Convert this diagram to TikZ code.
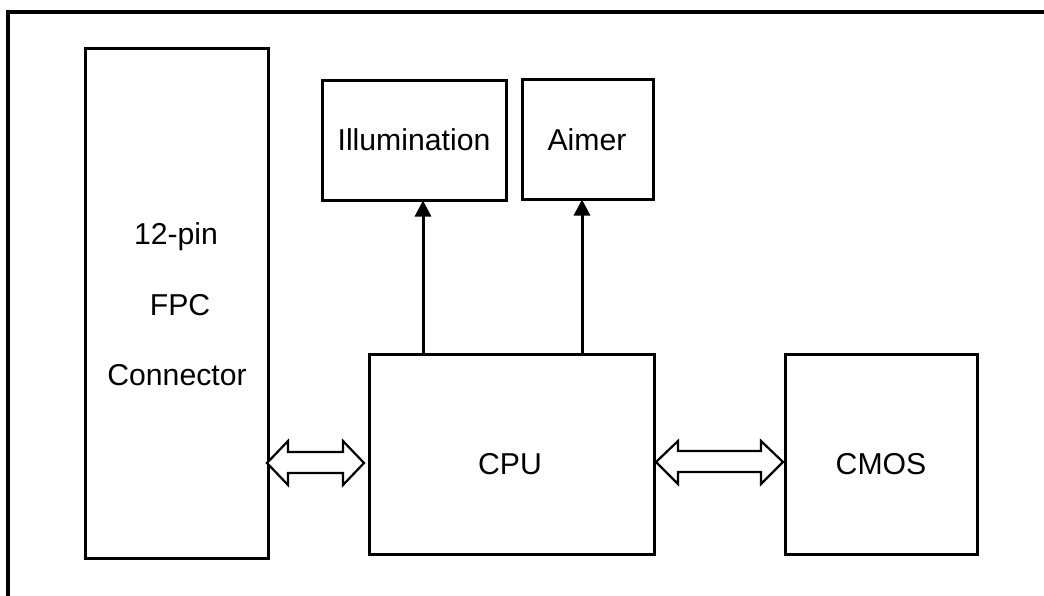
\documentclass[tikz,border=0pt]{standalone}
\usepackage{fontspec}
\setmainfont{Liberation Sans}
\usetikzlibrary{arrows.meta,calc}
\begin{document}
\begin{tikzpicture}[x=1pt,y=-1pt,
  box/.style={draw, line width=3pt, inner sep=0pt, rectangle},
  lbl/.style={font=\fontsize{30.2}{36}\selectfont, inner sep=0pt, anchor=base},
  arr/.style={line width=3pt, -{Triangle[width=16pt,length=16pt]}, shorten >=-1pt},
  dbl/.style={draw, line width=2.2pt, fill=white, line join=miter}]
\useasboundingbox (0,0) rectangle (1044,595);
% outer frame
\coordinate (fbl) at (8,600);
\coordinate (ftl) at (8,12);
\coordinate (ftr) at (1050,12);
\draw[line width=3.5pt] (fbl) -- (ftl) -- (ftr);
% boxes
\node[box, minimum width=183pt, minimum height=509.5pt] (fpc) at (176.5,303.25) {};
\node[box, minimum width=184pt, minimum height=120pt] (ill) at (414,140) {};
\node[box, minimum width=131pt, minimum height=120pt] (aim) at (587.5,139) {};
\node[box, minimum width=285pt, minimum height=200pt] (cpu) at (511.5,454) {};
\node[box, minimum width=192pt, minimum height=200pt] (cmos) at (881,454) {};
% texts
\node[lbl] (t1) at (176,244) {12-pin};
\node[lbl] (t2) at (180,315) {FPC};
\node[lbl] (t3) at (177,385) {Connector};
\node[lbl] (tI) at (414,150.5) {Illumination};
\node[lbl] (tA) at (587,150) {Aimer};
\node[lbl] (tC) at (510,474) {CPU};
\node[lbl] (tM) at (881,474) {CMOS};
% single arrows
\coordinate (xa) at (423,0);
\coordinate (xb) at (582,0);
\draw[arr] (xa |- cpu.north) -- (xa |- ill.south);
\draw[arr] (xb |- cpu.north) -- (xb |- aim.south);
% double arrows
\coordinate (d1) at (267,463);
\draw[dbl] (d1) -- ++(21,-22) -- ++(0,11) -- ++(55,0) -- ++(0,-11) -- ++(21,22)
  -- ++(-21,22) -- ++(0,-12) -- ++(-55,0) -- ++(0,12) -- cycle;
\coordinate (d2) at (656,462);
\draw[dbl] (d2) -- ++(22,-21) -- ++(0,10) -- ++(83,0) -- ++(0,-10) -- ++(22,21)
  -- ++(-22,22) -- ++(0,-12) -- ++(-83,0) -- ++(0,12) -- cycle;
\end{tikzpicture}
\end{document}
